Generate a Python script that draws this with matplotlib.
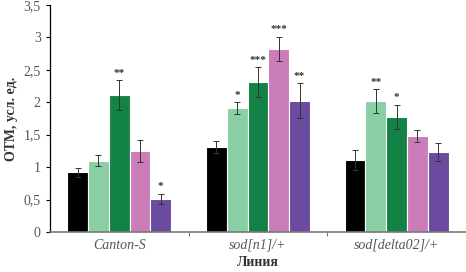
import numpy as np
import matplotlib.pyplot as plt

lines = ["Canton-S", "sod[n1]/+", "sod[delta02]/+"]
colors = ["#000000", "#8ACFA4", "#128245", "#CB7DB9", "#6A4BA0"]
values = [
    [0.92, 1.10, 2.11, 1.25, 0.51],
    [1.31, 1.91, 2.31, 2.82, 2.02],
    [1.11, 2.02, 1.77, 1.48, 1.23],
]
errors = [
    [0.07, 0.09, 0.23, 0.17, 0.08],
    [0.10, 0.09, 0.23, 0.19, 0.27],
    [0.15, 0.18, 0.19, 0.09, 0.14],
]
stars = [
    ["", "", "**", "", "*"],
    ["", "*", "***", "***", "**"],
    ["", "**", "*", "", ""],
]

plt.rcParams["font.family"] = ["Liberation Serif", "DejaVu Serif"]

fig = plt.figure(figsize=(4.66, 2.72), dpi=100)
ax = fig.add_axes([0.107, 0.147, 0.893, 0.835])

vals = np.array(values)
errs = np.array(errors)
x = np.arange(len(lines))
w = 0.15
for j in range(5):
    pos = x + (j - 2) * w
    ax.bar(pos, vals[:, j], width=w, color=colors[j], edgecolor="white",
           linewidth=0.8, zorder=2)
    ax.errorbar(pos, vals[:, j], yerr=errs[:, j], fmt="none", ecolor="#333333",
                elinewidth=0.7, capsize=2.5, capthick=0.7, zorder=3)
    for i in range(len(lines)):
        if stars[i][j]:
            ax.text(pos[i], vals[i, j] + errs[i, j] + 0.04, stars[i][j],
                    ha="center", va="bottom", fontsize=8, fontweight="bold",
                    color="#333333")

ax.set_xlim(-0.5, 2.5)
ax.set_ylim(0, 3.5)
ax.set_yticks(np.arange(0, 3.51, 0.5))
ax.set_yticklabels([("%g" % v).replace(".", ",") for v in np.arange(0, 3.51, 0.5)],
                   color="#555555", fontsize=10)
ax.set_xticks(x)
ax.set_xticklabels(lines, style="italic", color="#555555", fontsize=10)
ax.set_xticks([0.5, 1.5], minor=True)
ax.tick_params(axis="x", which="major", length=0, pad=5)
ax.tick_params(axis="x", which="minor", length=3, color="#555555")
ax.tick_params(axis="y", length=3, width=0.8)

ax.spines["top"].set_visible(False)
ax.spines["right"].set_visible(False)
ax.spines["bottom"].set_color("#777777")
ax.spines["bottom"].set_linewidth(1.2)
ax.spines["left"].set_linewidth(0.9)

ax.set_ylabel("ОТМ, усл. ед.", fontweight="bold", fontsize=10, color="#333333",
              labelpad=4)
ax.set_xlabel("Линия", fontweight="bold", fontsize=10, color="#333333", labelpad=3)

fig.savefig("out.png", dpi=100)
